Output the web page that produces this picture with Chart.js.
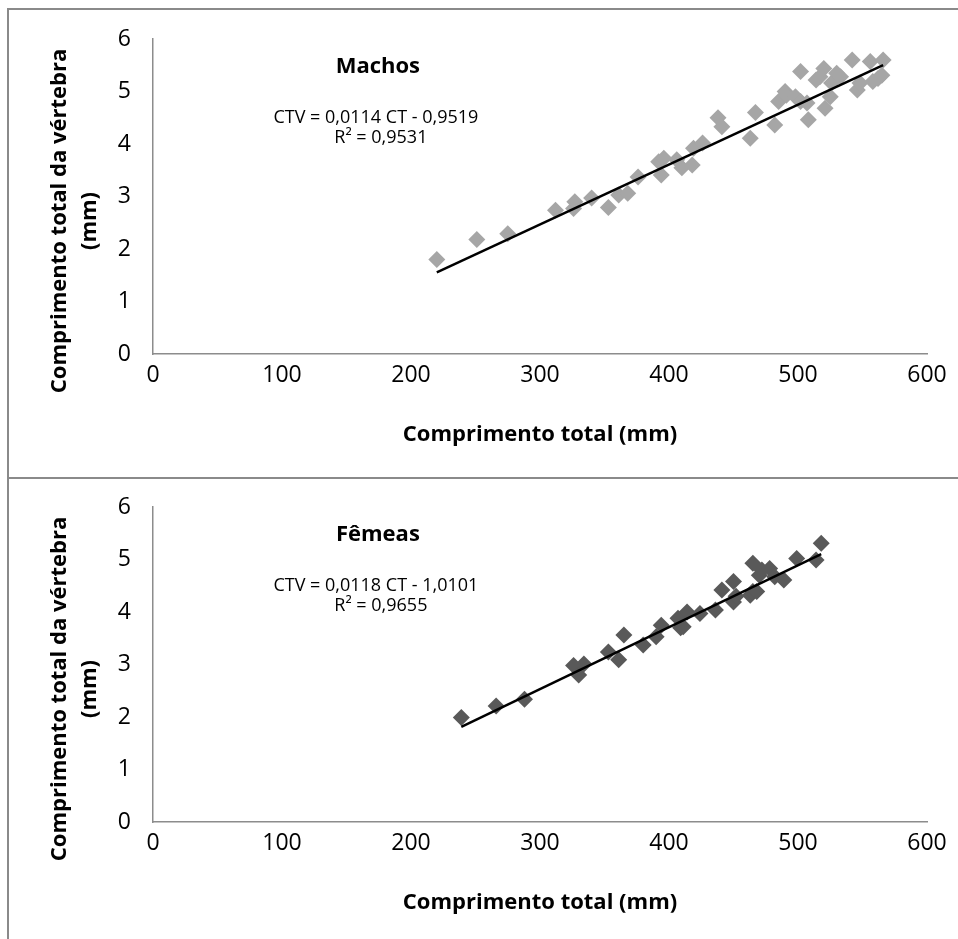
<!DOCTYPE html>
<html lang="pt">
<head>
  <meta charset="UTF-8" />
  <title>Comprimento total da vértebra x Comprimento total</title>
  <script src="https://cdn.jsdelivr.net/npm/chart.js"></script>
  <style>
    body {
      margin: 0;
      background: #ffffff;
      font-family: 'Open Sans', sans-serif;
    }
    .frame {
      position: absolute;
      left: 7px;
      width: 960px;
      border-left: 2px solid #8a8a8a;
      border-top: 2px solid #8a8a8a;
    }
    .box {
      position: absolute;
      left: 0;
      width: 958px;
      height: 477px;
    }
  </style>
</head>
<body>

  <div class="frame" style="top:8px; height:470px;"></div>
  <div class="frame" style="top:477px; height:470px;"></div>

  <div class="box" style="top:0;"><canvas id="graficoMachos"></canvas></div>
  <div class="box" style="top:468px;"><canvas id="graficoFemeas"></canvas></div>

  <script>
    // Machos: comprimento total (mm) e comprimento total da vértebra (mm)
    const ctMachos = [220, 251, 275, 312, 326, 327, 340, 353, 361, 368, 376, 392, 394, 396, 406, 410, 418, 419, 426, 438,
      441, 463, 467, 482, 485, 490, 491, 498, 502, 502, 507, 508, 514, 517, 520, 521, 525, 526, 530, 533,
      542, 546, 548, 556, 558, 562, 565, 566];
    const ctvMachos = [1.80, 2.18, 2.29, 2.74, 2.77, 2.90, 2.97, 2.79, 3.03, 3.06, 3.37, 3.66, 3.41, 3.73, 3.70, 3.55, 3.60, 3.92, 4.02, 4.50,
      4.33, 4.11, 4.60, 4.36, 4.81, 5.00, 4.93, 4.90, 5.38, 4.81, 4.78, 4.46, 5.22, 5.28, 5.44, 4.68, 4.90, 5.16, 5.35, 5.28,
      5.60, 5.03, 5.16, 5.57, 5.19, 5.25, 5.31, 5.60];

    // Fêmeas
    const ctFemeas = [239, 266, 288, 326, 330, 334, 353, 361, 365, 380, 390, 394, 407, 409, 411, 414, 424, 436, 441, 450,
      450, 452, 463, 465, 465, 468, 470, 472, 478, 482, 489, 499, 514, 518];
    const ctvFemeas = [1.99, 2.21, 2.34, 2.98, 2.80, 3.01, 3.24, 3.09, 3.56, 3.37, 3.53, 3.75, 3.88, 3.70, 3.72, 4.00, 3.97, 4.04, 4.42, 4.58,
      4.19, 4.30, 4.32, 4.93, 4.39, 4.39, 4.70, 4.80, 4.83, 4.67, 4.61, 5.02, 4.99, 5.31];

    // regressões lineares (CTV = a CT + b)
    const regMachos = { a: 0.0114, b: -0.9519, r2: '0,9531' };
    const regFemeas = { a: 0.0118, b: -1.0101, r2: '0,9655' };

    const xTicks = [0, 100, 200, 300, 400, 500, 600];
    const yTicks = [0, 1, 2, 3, 4, 5, 6];

    const FONTE = "'Open Sans', sans-serif";

    function fmt(v) {
      return v.toFixed(4).replace('.', ',');
    }

    // título do eixo y desenhado à mão para ficar centrado no painel
    const tituloY = {
      id: 'tituloY',
      afterDraw(chart) {
        const ctx = chart.ctx;
        ctx.save();
        ctx.fillStyle = '#000';
        ctx.font = 'bold 22px ' + FONTE;
        ctx.textAlign = 'center';
        ctx.textBaseline = 'middle';
        ctx.translate(60, 221);
        ctx.rotate(-Math.PI / 2);
        ctx.fillText('Comprimento total da vértebra', 0, 0);
        ctx.fillText('(mm)', 0, 30);
        ctx.restore();
      }
    };

    // nome do grupo e equação da reta
    const rotulos = {
      id: 'rotulos',
      afterDraw(chart, args, opts) {
        const ctx = chart.ctx;
        const x = chart.scales.x.getPixelForValue(172);
        const y = chart.scales.y;
        ctx.save();
        ctx.fillStyle = '#000';
        ctx.textAlign = 'center';
        ctx.textBaseline = 'middle';
        ctx.font = 'bold 22px ' + FONTE;
        ctx.fillText(opts.nome, x + 3, y.getPixelForValue(5.47));
        ctx.font = '18px ' + FONTE;
        const sinal = opts.reg.b < 0 ? ' - ' : ' + ';
        ctx.fillText('CTV = ' + fmt(opts.reg.a) + ' CT' + sinal + fmt(Math.abs(opts.reg.b)), x + 1, y.getPixelForValue(4.5));
        ctx.fillText('R² = ' + opts.reg.r2, x + 6, y.getPixelForValue(4.12));
        ctx.restore();
      }
    };

    function criarGrafico(id, nome, xs, ys, reg, cor) {
      const pontos = xs.map((x, i) => ({ x: x, y: ys[i] }));
      const xmin = Math.min(...xs), xmax = Math.max(...xs);
      const reta = [
        { x: xmin, y: reg.a * xmin + reg.b },
        { x: xmax, y: reg.a * xmax + reg.b }
      ];

      return new Chart(document.getElementById(id), {
        type: 'scatter',
        data: {
          datasets: [
            {
              type: 'line',
              data: reta,
              borderColor: '#000',
              borderWidth: 2.5,
              pointRadius: 0,
              fill: false
            },
            {
              data: pontos,
              pointStyle: 'rectRot',
              pointRadius: 8.5,
              backgroundColor: cor,
              borderColor: cor,
              borderWidth: 0
            }
          ]
        },
        options: {
          responsive: true,
          maintainAspectRatio: false,
          animation: false,
          layout: { padding: { top: 39, right: 31, left: 0, bottom: 0 } },
          plugins: {
            legend: { display: false },
            tooltip: { enabled: false },
            rotulos: { nome: nome, reg: reg }
          },
          scales: {
            x: {
              type: 'linear',
              min: 0,
              max: 600,
              afterFit: s => { s.height = 123; },
              afterBuildTicks: s => { s.ticks = xTicks.map(v => ({ value: v })); },
              grid: { display: false, drawTicks: false },
              border: { color: '#8c8c8c', width: 1.5 },
              ticks: { color: '#000', padding: 8, font: { family: FONTE, size: 23 } },
              title: {
                display: true,
                text: 'Comprimento total (mm)',
                color: '#000',
                font: { family: FONTE, size: 22, weight: 'bold' },
                padding: { top: 0, bottom: 29 }
              }
            },
            y: {
              type: 'linear',
              min: 0,
              max: 6,
              afterFit: s => { s.width = 153; },
              afterBuildTicks: s => { s.ticks = yTicks.map(v => ({ value: v })); },
              grid: { display: false, drawTicks: false },
              border: { color: '#8c8c8c', width: 1.5 },
              ticks: { color: '#000', padding: 22, font: { family: FONTE, size: 23 } }
            }
          }
        },
        plugins: [tituloY, rotulos]
      });
    }

    criarGrafico('graficoMachos', 'Machos', ctMachos, ctvMachos, regMachos, '#a6a6a6');
    criarGrafico('graficoFemeas', 'Fêmeas', ctFemeas, ctvFemeas, regFemeas, '#595959');
  </script>

</body>
</html>
